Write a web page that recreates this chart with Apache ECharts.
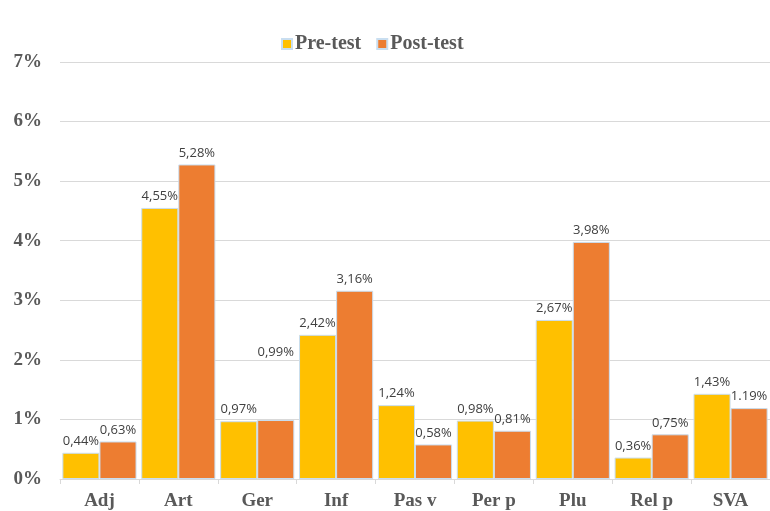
<!DOCTYPE html>
<html>
<head>
<meta charset="utf-8">
<script src="https://cdn.jsdelivr.net/npm/echarts@6/dist/echarts.min.js"></script>
<style>
  html, body { margin: 0; padding: 0; background: #fff; }
  #chart { width: 770px; height: 511px; }
</style>
</head>
<body>
<div id="chart"></div>
<script>
// Error categories
const categories = ['Adj', 'Art', 'Ger', 'Inf', 'Pas v', 'Per p', 'Plu', 'Rel p', 'SVA'];
// Share of errors (%)
const preTest  = [0.44, 4.55, 0.97, 2.42, 1.24, 0.98, 2.67, 0.36, 1.43];
const postTest = [0.63, 5.28, 0.99, 3.16, 0.58, 0.81, 3.98, 0.75, 1.19];
// Decimal separator used in each data label
const preSep  = [',', ',', ',', ',', ',', ',', ',', ',', ','];
const postSep = [',', ',', ',', ',', ',', ',', ',', ',', '.'];
// Y axis ticks
const yTicks = [0, 1, 2, 3, 4, 5, 6, 7];

const chart = echarts.init(document.getElementById('chart'));

const serifBold = {
  fontFamily: '"Liberation Serif", "Times New Roman", serif',
  fontWeight: 'bold',
  fontSize: 19,
  color: '#595959'
};

const labelStyle = {
  show: true,
  position: 'top',
  distance: 5,
  color: '#404040',
  fontSize: 13,
  fontFamily: '"Open Sans", "Liberation Sans", sans-serif'
};

function fmt(v, sep) {
  return v.toFixed(2).replace('.', sep) + '%';
}

const postData = postTest.map((v, i) => {
  const item = { value: v };
  if (categories[i] === 'Ger') {
    item.label = { offset: [0, -56] };
  }
  return item;
});

chart.setOption({
  animation: false,
  color: ['#FFC000', '#ED7D31'],
  legend: {
    top: 29,
    left: 276,
    itemWidth: 10,
    itemHeight: 10,
    itemGap: 15,
    icon: 'rect',
    textStyle: Object.assign({}, serifBold, { fontSize: 20, padding: [0, 0, 0, -2] }),
    data: ['Pre-test', 'Post-test']
  },
  grid: { left: 60, right: 0, top: 62, bottom: 32, containLabel: false },
  xAxis: {
    type: 'category',
    data: categories,
    axisLine: { lineStyle: { color: '#d9d9d9' } },
    axisTick: { show: true, length: 5, lineStyle: { color: '#d9d9d9' } },
    axisLabel: Object.assign({ margin: 13 }, serifBold)
  },
  yAxis: {
    type: 'value',
    min: yTicks[0],
    max: yTicks[yTicks.length - 1],
    interval: 1,
    axisLine: { show: false },
    axisTick: { show: false },
    splitLine: { lineStyle: { color: '#d9d9d9' } },
    axisLabel: Object.assign({ margin: 18, formatter: v => v + '%' }, serifBold)
  },
  series: [
    {
      name: 'Pre-test',
      type: 'bar',
      data: preTest,
      barGap: '0%',
      barCategoryGap: '6%',
      itemStyle: { borderColor: '#c9def0', borderWidth: 1 },
      label: Object.assign({}, labelStyle, {
        formatter: p => fmt(p.value, preSep[p.dataIndex])
      })
    },
    {
      name: 'Post-test',
      type: 'bar',
      data: postData,
      barGap: '0%',
      barCategoryGap: '6%',
      itemStyle: { borderColor: '#c9def0', borderWidth: 1 },
      label: Object.assign({}, labelStyle, {
        formatter: p => fmt(p.value, postSep[p.dataIndex])
      })
    }
  ]
});
</script>
</body>
</html>
